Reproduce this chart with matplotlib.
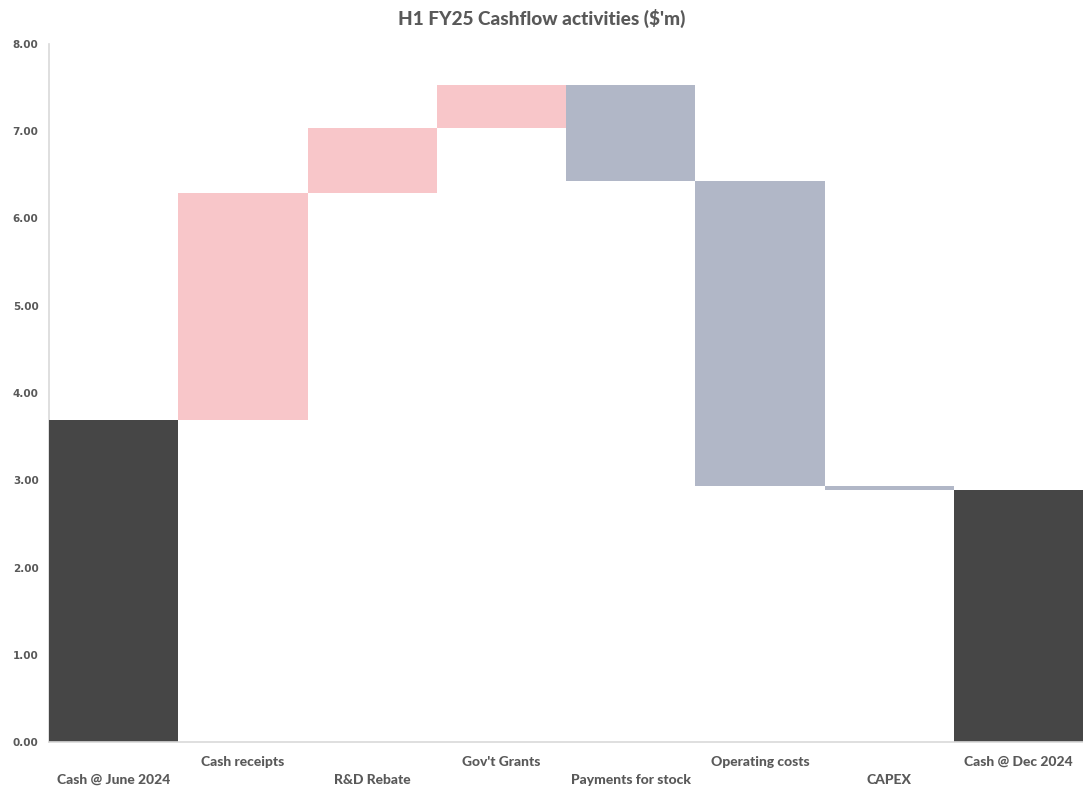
import matplotlib
matplotlib.use("Agg")
import matplotlib.pyplot as plt
import matplotlib.transforms as mtransforms

categories = ["Cash @ June 2024", "Cash receipts", "R&D Rebate", "Gov't Grants",
              "Payments for stock", "Operating costs", "CAPEX", "Cash @ Dec 2024"]
opening = 3.69
changes = [2.60, 0.75, 0.49, -1.10, -3.50, -0.04]
closing = 2.89
y_ticks = [0, 1, 2, 3, 4, 5, 6, 7, 8]

DARK = "#464646"
UP = "#F8C6C9"
DOWN = "#B1B7C7"
TXT = "#595959"

plt.rcParams['font.family'] = ['Lato', 'DejaVu Sans']

fig = plt.figure(figsize=(10.83, 7.89), dpi=100)
ax = fig.add_axes([49/1083, 47/789, 1 - 49/1083, 698/789])

# bars
ax.bar(0, opening, width=1.0, color=DARK, zorder=3)
level = opening
for i, d in enumerate(changes, start=1):
    bottom = level if d >= 0 else level + d
    ax.bar(i, abs(d), bottom=bottom, width=1.0, color=UP if d >= 0 else DOWN, zorder=3)
    level += d
ax.bar(len(categories) - 1, closing, width=1.0, color=DARK, zorder=3)

ax.set_xlim(-0.5, len(categories) - 0.5)
ax.set_ylim(0, 8)
ax.set_yticks(y_ticks)
ax.set_yticklabels([f"{v:.2f}" for v in y_ticks], fontsize=7.5, fontweight='bold',
                   color=TXT, family='DejaVu Sans')
ax.tick_params(axis='y', length=0, pad=7.5)
ax.set_xticks([])

for s in ['top', 'right']:
    ax.spines[s].set_visible(False)
ax.spines['left'].set_color('#D9D9D9')
ax.spines['left'].set_linewidth(1.2)
ax.spines['bottom'].set_color('#D9D9D9')
ax.spines['bottom'].set_linewidth(1.2)
ax.spines['bottom'].set_zorder(4)

trans = mtransforms.blended_transform_factory(ax.transData, fig.transFigure)
for i, lab in enumerate(categories):
    ypix = 780 if i % 2 == 0 else 762
    ax.text(i, 1 - ypix/789, lab, transform=trans, ha='center', va='center',
            fontsize=10, fontweight='black', color=TXT)

fig.text(0.5, 1 - 18/789, "H1 FY25 Cashflow activities ($'m)", ha='center', va='center',
         fontsize=13.7, fontweight='black', color=TXT)

fig.savefig("out.png", dpi=100)
